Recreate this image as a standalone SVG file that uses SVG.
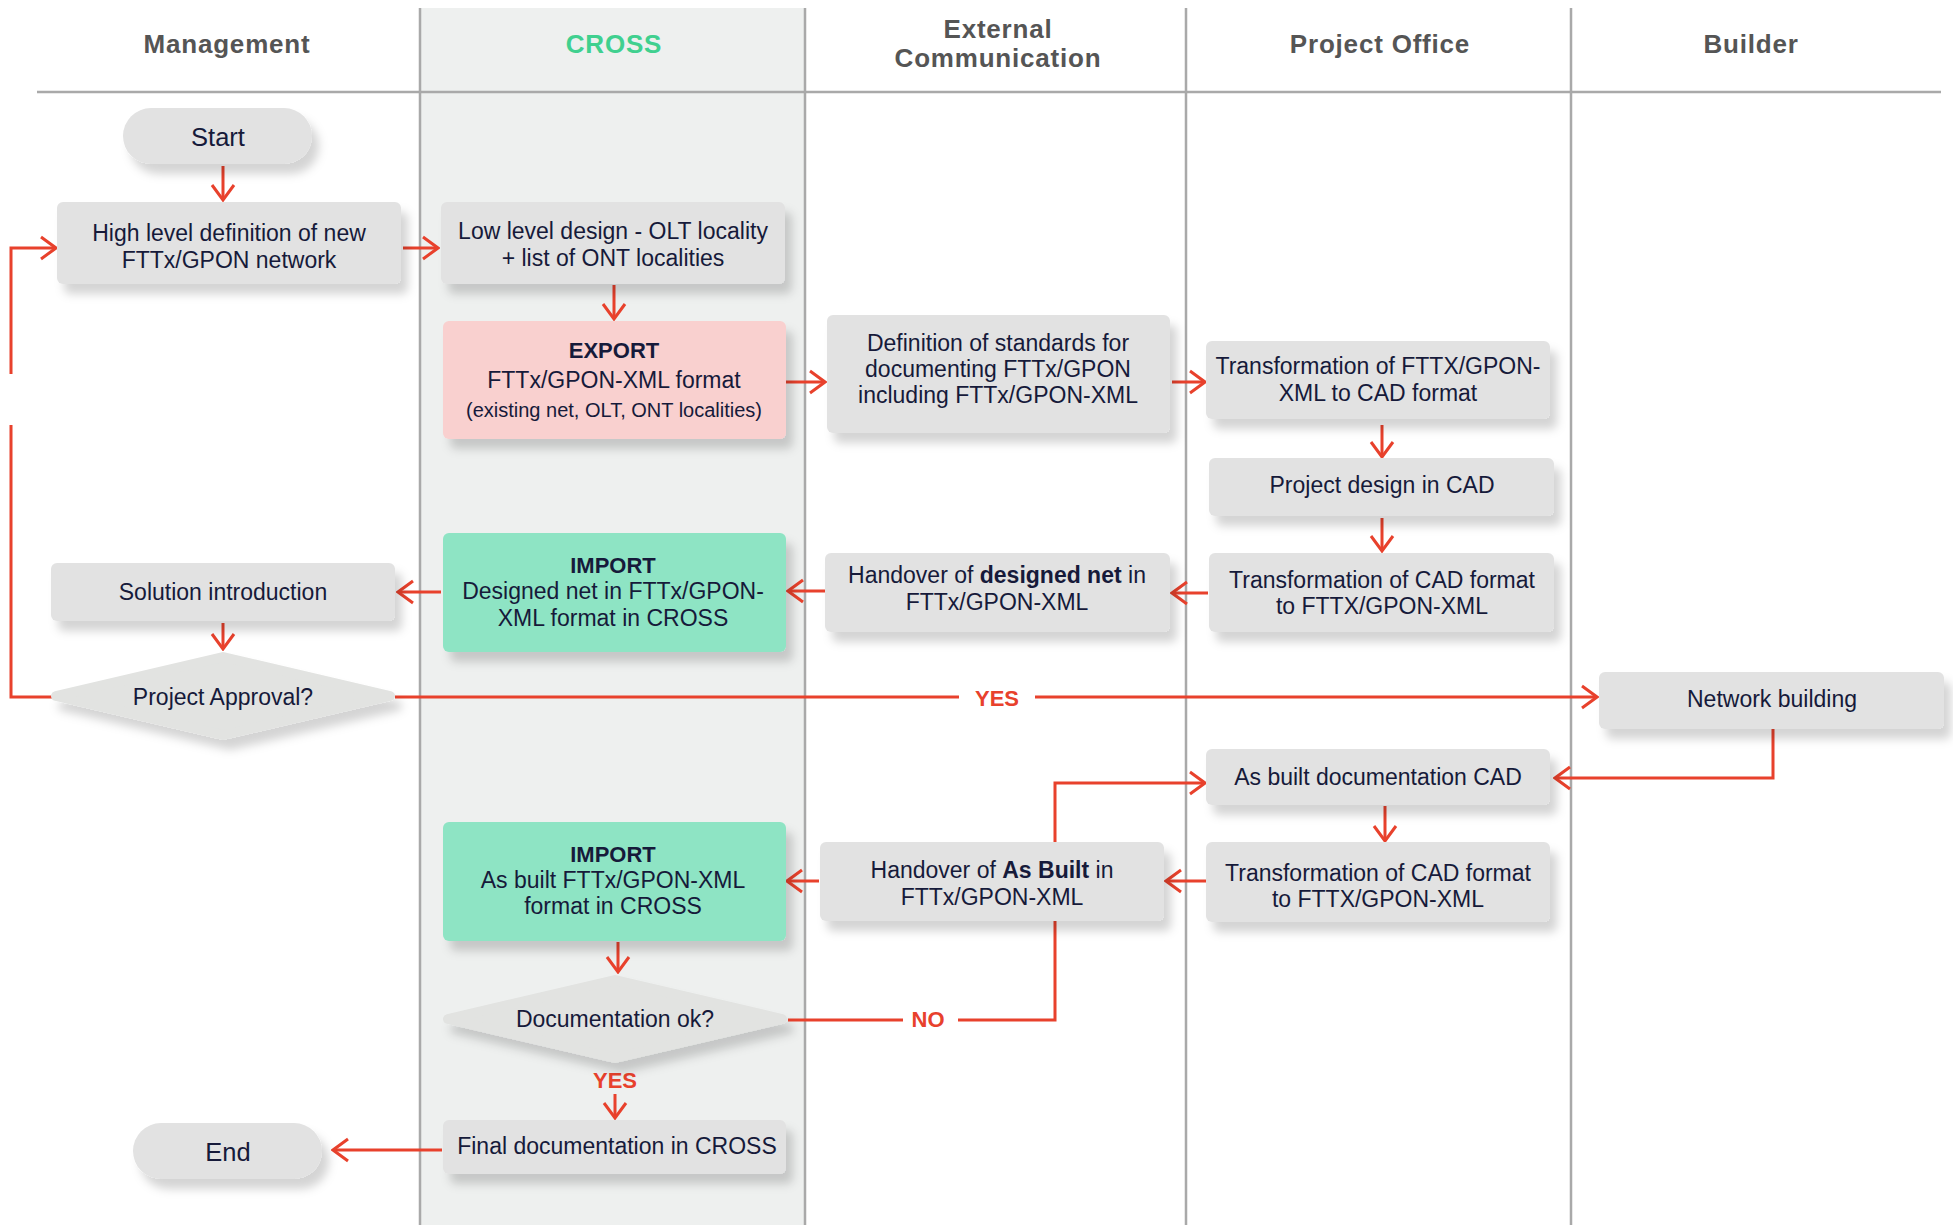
<svg xmlns="http://www.w3.org/2000/svg" width="1953" height="1225" viewBox="0 0 1953 1225">
<style>
.hdr{font-family:"Liberation Sans",Arial,sans-serif;font-weight:700;font-size:26px;letter-spacing:0.8px;fill:#555555;text-anchor:middle}
.t{font-family:"Liberation Sans",Arial,sans-serif;font-size:23px;fill:#161a3a;text-anchor:middle}
.b{font-weight:700}
.bh{font-size:22px}
.sm{font-size:20px}
.big{font-size:25.5px}
.lbl{font-family:"Liberation Sans",Arial,sans-serif;font-weight:700;font-size:22px;fill:#e8412c;text-anchor:middle}
.box{fill:#e2e2e2;filter:url(#sh)}
.pink{fill:#f9d0cf;filter:url(#sh)}
.green{fill:#8ee4c4;filter:url(#sh)}
.dia{fill:#e2e3e1;stroke:#e2e3e1;stroke-width:10;stroke-linejoin:round;filter:url(#sh)}
.lane{stroke:#a9a9a9;stroke-width:2.5;fill:none}
.c{fill:none;stroke:#e8412c;stroke-width:3}
.a{marker-end:url(#arr)}
</style>
<defs>
<filter id="sh" x="-10%" y="-20%" width="125%" height="160%">
<feDropShadow dx="7" dy="10" stdDeviation="5" flood-color="#000" flood-opacity="0.17"/>
</filter>
<marker id="arr" viewBox="-18 -13 20 26" markerWidth="20" markerHeight="26" refX="0" refY="0" orient="auto" markerUnits="userSpaceOnUse">
<path d="M-15,-11 L0,0 L-15,11" fill="none" stroke="#e8412c" stroke-width="3"/>
</marker>
</defs>
<rect width="1953" height="1225" fill="#ffffff"/>
<g id="lanes">
<rect x="420" y="8" width="385" height="1217" fill="#eef0ef"/>
<line class="lane" x1="37" y1="92" x2="1941" y2="92"/>
<line class="lane" x1="420" y1="8" x2="420" y2="1225"/>
<line class="lane" x1="805" y1="8" x2="805" y2="1225"/>
<line class="lane" x1="1186" y1="8" x2="1186" y2="1225"/>
<line class="lane" x1="1571" y1="8" x2="1571" y2="1225"/>
<text class="hdr" x="227" y="53">Management</text>
<text class="hdr" x="614" y="53" style="fill:#40d08f">CROSS</text>
<text class="hdr" x="998" y="37.5">External</text>
<text class="hdr" x="998" y="67">Communication</text>
<text class="hdr" x="1380" y="53">Project Office</text>
<text class="hdr" x="1751" y="53">Builder</text>
</g>
<g id="connectors">
<path class="c a" d="M223,166 V200"/>
<path class="c a" d="M403,248 H438"/>
<path class="c" d="M52,697 H11 V425"/>
<path class="c a" d="M11,374 V248 H56"/>
<path class="c a" d="M614,285 V319"/>
<path class="c a" d="M786,382 H825"/>
<path class="c a" d="M1172,382 H1205"/>
<path class="c a" d="M1382,425 V457"/>
<path class="c a" d="M1382,518 V551"/>
<path class="c a" d="M1208,593 H1172"/>
<path class="c a" d="M825,591 H788"/>
<path class="c a" d="M441,592 H398"/>
<path class="c a" d="M223,623 V649"/>
<path class="c" d="M395,697 H959"/>
<path class="c a" d="M1035,697 H1597"/>
<text class="lbl" x="997" y="706">YES</text>
<path class="c a" d="M1773,729 V778 H1555"/>
<path class="c" d="M788,1020 H903"/>
<path class="c a" d="M958,1020 H1055 V783 H1205"/>
<text class="lbl" x="928" y="1027">NO</text>
<path class="c a" d="M1385,806 V841"/>
<path class="c a" d="M1206,881 H1166"/>
<path class="c a" d="M819,881 H787"/>
<path class="c a" d="M618,942 V972"/>
<text class="lbl" x="615" y="1088">YES</text>
<path class="c a" d="M615,1094 V1118"/>
<path class="c a" d="M442,1150 H333"/>
</g>
<g id="start"><rect class="box" x="123" y="108" width="189" height="56" rx="28"/><text class="t big" x="218" y="146">Start</text></g>
<g id="high-level"><rect class="box" x="57" y="202" width="344" height="82" rx="6"/><text class="t" x="229" y="241">High level definition of new</text><text class="t" x="229" y="268">FTTx/GPON network</text></g>
<g id="low-level"><rect class="box" x="441" y="202" width="344" height="82" rx="6"/><text class="t" x="613" y="239">Low level design - OLT locality</text><text class="t" x="613" y="266">+ list of ONT localities</text></g>
<g id="export"><rect class="pink" x="443" y="321" width="343" height="118" rx="6"/><text class="t b bh" x="614" y="358">EXPORT</text><text class="t" x="614" y="388">FTTx/GPON-XML format</text><text class="t sm" x="614" y="417">(existing net, OLT, ONT localities)</text></g>
<g id="definition"><rect class="box" x="827" y="315" width="343" height="118" rx="6"/><text class="t" x="998" y="351">Definition of standards for</text><text class="t" x="998" y="377">documenting FTTx/GPON</text><text class="t" x="998" y="403">including FTTx/GPON-XML</text></g>
<g id="transform-xml-cad"><rect class="box" x="1206" y="341" width="344" height="78" rx="6"/><text class="t" x="1378" y="374">Transformation of FTTX/GPON-</text><text class="t" x="1378" y="401">XML to CAD format</text></g>
<g id="project-design"><rect class="box" x="1209" y="458" width="345" height="58" rx="6"/><text class="t" x="1382" y="493">Project design in CAD</text></g>
<g id="transform-cad-xml-1"><rect class="box" x="1209" y="553" width="345" height="79" rx="6"/><text class="t" x="1382" y="588">Transformation of CAD format</text><text class="t" x="1382" y="614">to FTTX/GPON-XML</text></g>
<g id="handover-designed"><rect class="box" x="825" y="553" width="345" height="79" rx="6"/><text class="t" x="997" y="583">Handover of <tspan class="b">designed net</tspan> in</text><text class="t" x="997" y="610">FTTx/GPON-XML</text></g>
<g id="import-designed"><rect class="green" x="443" y="533" width="343" height="119" rx="6"/><text class="t b bh" x="613" y="573">IMPORT</text><text class="t" x="613" y="599">Designed net in FTTx/GPON-</text><text class="t" x="613" y="626">XML format in CROSS</text></g>
<g id="solution"><rect class="box" x="51" y="563" width="344" height="58" rx="6"/><text class="t" x="223" y="600">Solution introduction</text></g>
<g id="approval"><polygon class="dia" points="56,696 223,657 390,696 223,735"/><text class="t" x="223" y="705">Project Approval?</text></g>
<g id="network-building"><rect class="box" x="1599" y="672" width="345" height="57" rx="6"/><text class="t" x="1772" y="707">Network building</text></g>
<g id="as-built-cad"><rect class="box" x="1206" y="749" width="344" height="56" rx="6"/><text class="t" x="1378" y="785">As built documentation CAD</text></g>
<g id="transform-cad-xml-2"><rect class="box" x="1206" y="842" width="344" height="80" rx="6"/><text class="t" x="1378" y="881">Transformation of CAD format</text><text class="t" x="1378" y="907">to FTTX/GPON-XML</text></g>
<g id="handover-asbuilt"><rect class="box" x="820" y="842" width="344" height="79" rx="6"/><text class="t" x="992" y="878">Handover of <tspan class="b">As Built</tspan> in</text><text class="t" x="992" y="905">FTTx/GPON-XML</text></g>
<g id="import-asbuilt"><rect class="green" x="443" y="822" width="343" height="119" rx="6"/><text class="t b bh" x="613" y="862">IMPORT</text><text class="t" x="613" y="888">As built FTTx/GPON-XML</text><text class="t" x="613" y="914">format in CROSS</text></g>
<g id="doc-ok"><polygon class="dia" points="448,1019 615,980 782,1019 615,1058"/><text class="t" x="615" y="1027">Documentation ok?</text></g>
<g id="final"><rect class="box" x="443" y="1120" width="343" height="54" rx="6"/><text class="t" x="617" y="1154">Final documentation in CROSS</text></g>
<g id="end"><rect class="box" x="133" y="1123" width="189" height="56" rx="28"/><text class="t big" x="228" y="1161">End</text></g>
</svg>
